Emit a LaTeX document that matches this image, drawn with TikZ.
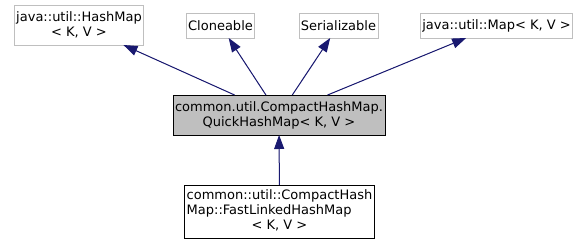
\documentclass[tikz,border=0pt]{standalone}
\usepackage{fontspec}
\setmainfont{DejaVu Sans}
\usetikzlibrary{arrows.meta,positioning}
\definecolor{edgeblue}{RGB}{25,25,112}
\definecolor{extgray}{RGB}{191,191,191}
\definecolor{curfill}{RGB}{191,191,191}
\tikzset{
  classdiag/.style={
    x=1pt,y=-1pt,
    every node/.style={font=\fontsize{13}{15}\selectfont,inner sep=2pt,outer sep=0pt,align=center},
    ext/.style={draw=extgray,line width=0.9pt,minimum width=#1,minimum height=25pt},
    cls/.style={draw=black,line width=0.9pt,minimum width=#1},
    inh/.style={{Triangle[length=14pt,width=10pt]}-,draw=edgeblue,fill=edgeblue,line width=1pt}},
}

\begin{document}
\begin{tikzpicture}[classdiag]
  \useasboundingbox (0,0) rectangle (587,245);
  % base classes and interfaces
  \node[ext=148pt,minimum height=40pt] (hmap) at (79,25) {java::util::HashMap\\< K, V >};
  \node[ext=87pt] (clone) at (220.5,25.5) {Cloneable};
  \node[ext=97pt] (ser) at (338.5,25.5) {Serializable};
  \node[ext=171pt] (jmap) at (496.5,25.5) {java::util::Map< K, V >};
  % the documented class
  \node[cls=232pt,minimum height=40pt,fill=curfill] (quick) at (279,115)
    {common.util.CompactHashMap.\\QuickHashMap< K, V >};
  % subclass
  \node[cls=207pt,minimum height=53pt] (fast) at (279.5,211.5)
    {\begin{tabular}{@{}l@{}}common::util::CompactHash\\Map::FastLinkedHashMap\\
     \multicolumn{1}{@{}c@{}}{< K, V >}\end{tabular}};
  \draw[inh] (hmap) -- (quick);
  \draw[inh] (clone) -- (quick);
  \draw[inh] (ser) -- (quick);
  \draw[inh] (jmap) -- (quick);
  \draw[inh] (quick) -- (fast);
\end{tikzpicture}
\end{document}
